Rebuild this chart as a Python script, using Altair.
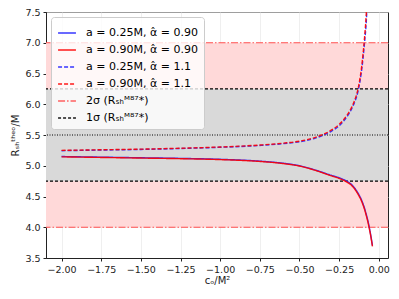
import altair as alt
import pandas as pd

# ---------------- data ----------------
c_low = [-2.0, -1.75, -1.5, -1.25, -1.0, -0.75, -0.6, -0.5, -0.4, -0.3, -0.25,
         -0.2, -0.17, -0.15, -0.13, -0.11, -0.1, -0.09, -0.08, -0.07, -0.06, -0.05, -0.04]
low_a025 = [5.150, 5.140, 5.130, 5.120, 5.105, 5.075, 5.040, 5.000, 4.930, 4.845, 4.805,
            4.745, 4.690, 4.630, 4.550, 4.450, 4.385, 4.310, 4.220, 4.120, 4.000, 3.860, 3.700]
low_a090 = [5.145, 5.135, 5.125, 5.115, 5.100, 5.070, 5.035, 4.995, 4.925, 4.837, 4.795,
            4.733, 4.676, 4.615, 4.533, 4.433, 4.366, 4.292, 4.200, 4.100, 3.980, 3.845, 3.690]

c_up = [-2.0, -1.75, -1.5, -1.25, -1.0, -0.75, -0.6, -0.5, -0.4, -0.3, -0.25,
        -0.2, -0.17, -0.15, -0.13, -0.12, -0.11, -0.1, -0.09, -0.08, -0.07]
up_a025 = [5.245, 5.255, 5.265, 5.280, 5.300, 5.330, 5.360, 5.390, 5.450, 5.560, 5.650,
           5.800, 5.930, 6.050, 6.220, 6.350, 6.520, 6.730, 7.000, 7.300, 7.800]
up_a090 = [5.250, 5.260, 5.270, 5.285, 5.305, 5.337, 5.368, 5.400, 5.462, 5.578, 5.672,
           5.825, 5.958, 6.080, 6.260, 6.400, 6.570, 6.800, 7.080, 7.420, 7.950]

series_names = ["a = 0.25M, α̂ = 0.90", "a = 0.90M, α̂ = 0.90",
                "a = 0.25M, α̂ = 1.1", "a = 0.90M, α̂ = 1.1",
                "2σ (Rₛₕᴹ⁸⁷*)", "1σ (Rₛₕᴹ⁸⁷*)"]
series_colors = ["#2222ff", "#ff0000", "#2222ff", "#ff0000", "#ff5050", "#000000"]
series_dash = [[1, 0], [1, 0], [4, 2], [4, 2], [7, 2, 1.5, 2], [3, 2]]

sigma2_bounds = [4.0, 7.0]
sigma1_bounds = [4.75, 6.25]
mean_value = [5.5]

x_ticks = [-2.0, -1.75, -1.5, -1.25, -1.0, -0.75, -0.5, -0.25, 0.0]
y_ticks = [3.5, 4.0, 4.5, 5.0, 5.5, 6.0, 6.5, 7.0, 7.5]

# ---------------- build tables ----------------
rows = []
for name, xs, ys in [(series_names[0], c_low, low_a025), (series_names[1], c_low, low_a090),
                     (series_names[2], c_up, up_a025), (series_names[3], c_up, up_a090)]:
    for x, y in zip(xs, ys):
        rows.append({"c": x, "R": y, "series": name})
curves = pd.DataFrame(rows)

hlines = pd.DataFrame(
    [{"R": v, "series": series_names[4]} for v in sigma2_bounds] +
    [{"R": v, "series": series_names[5]} for v in sigma1_bounds]
)
bands = pd.DataFrame([
    {"lo": sigma2_bounds[0], "hi": sigma2_bounds[1], "fill": "#ffd9d9"},
    {"lo": sigma1_bounds[0], "hi": sigma1_bounds[1], "fill": "#d9d9d9"},
])
mean_df = pd.DataFrame({"R": mean_value})

xscale = alt.Scale(domain=[-2.098, 0.058], nice=False, zero=False)
yscale = alt.Scale(domain=[3.5, 7.5], nice=False, zero=False)

color_scale = alt.Scale(domain=series_names, range=series_colors)
dash_scale = alt.Scale(domain=series_names, range=series_dash)

legend = alt.Legend(
    title=None, orient="none", legendX=5, legendY=5,
    symbolType="stroke", symbolSize=320, symbolStrokeWidth=1.5,
    labelFontSize=11, labelFont="DejaVu Sans", labelLimit=300,
    fillColor="rgba(255,255,255,0.8)", strokeColor="#cccccc",
    cornerRadius=3, padding=6, rowPadding=2, labelOffset=9,
)

xaxis = alt.Axis(title="cₒ/M²", values=x_ticks, format=".2f", grid=True, labelOverlap=False)
yaxis = alt.Axis(title="Rₛₕᵗʰᵉᵒ/M", values=y_ticks, format=".1f", grid=True,
                 labelOverlap=False, tickCount=9)

band_layer = alt.Chart(bands).mark_rect().encode(
    x=alt.value(0), x2=alt.value(342),
    y=alt.Y("lo:Q", scale=yscale, axis=yaxis),
    y2="hi:Q",
    fill=alt.Fill("fill:N", scale=None),
)

mean_layer = alt.Chart(mean_df).mark_rule(color="black", strokeDash=[1, 1.5], strokeWidth=1).encode(
    y=alt.Y("R:Q", scale=yscale, axis=yaxis)
)

hline_layer = alt.Chart(hlines).mark_rule(strokeWidth=1.2).encode(
    y=alt.Y("R:Q", scale=yscale, axis=yaxis),
    color=alt.Color("series:N", scale=color_scale, legend=legend),
    strokeDash=alt.StrokeDash("series:N", scale=dash_scale, legend=legend),
)

curve_layer = alt.Chart(curves).mark_line(clip=True, strokeWidth=1.4, opacity=0.9, interpolate="monotone").encode(
    x=alt.X("c:Q", scale=xscale, axis=xaxis),
    y=alt.Y("R:Q", scale=yscale, axis=yaxis),
    color=alt.Color("series:N", scale=color_scale, legend=legend),
    strokeDash=alt.StrokeDash("series:N", scale=dash_scale, legend=legend),
    detail="series:N",
)

chart = alt.layer(band_layer, mean_layer, hline_layer, curve_layer).properties(
    width=342, height=246,
    autosize=alt.AutoSizeParams(type="none"),
    padding={"left": 38, "top": 4, "right": 3, "bottom": 33},
).configure_view(
    stroke="#222222", strokeWidth=1
).configure_axis(
    labelFont="DejaVu Sans", labelFontSize=9.5, labelColor="#222222",
    titleFont="DejaVu Sans", titleFontSize=10, titleFontWeight="normal", titleColor="#222222",
    gridColor="#e6e6e6", gridOpacity=0.8, gridWidth=0.8,
    domainColor="#222222", tickColor="#222222", tickSize=3, zindex=1,
    labelPadding=3, labelOverlap=False,
).configure_axisY(
    titlePadding=4,
).configure_axisX(
    titlePadding=2,
)

chart.save("out.html", embed_options={"renderer": "svg", "actions": False})
